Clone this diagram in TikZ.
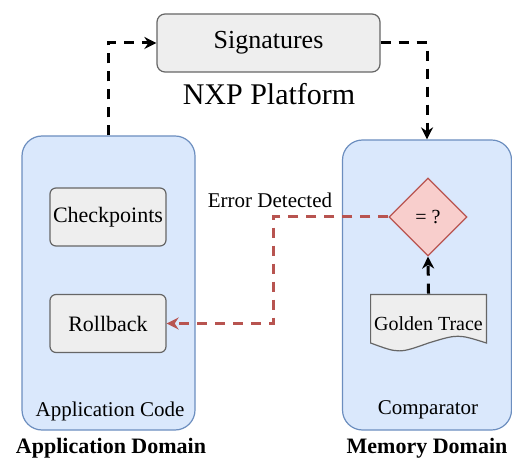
\documentclass[tikz,border=0pt]{standalone}
\usepackage{fontspec}
\setmainfont{Liberation Serif}
\usetikzlibrary{shapes.geometric,arrows.meta}

\definecolor{domblau}{HTML}{DAE8FC}
\definecolor{domrand}{HTML}{6C8EBF}
\definecolor{boxgrau}{HTML}{EEEEEE}
\definecolor{boxrand}{HTML}{666666}
\definecolor{pruefrot}{HTML}{F8CECC}
\definecolor{fehlerrot}{HTML}{B85450}

\begin{document}
\begin{tikzpicture}[x=0.5pt,y=0.5pt,
		domaene/.style={draw=domrand, fill=domblau, line width=0.6pt, rounded corners=10pt},
		baustein/.style={draw=boxrand, fill=boxgrau, line width=0.6pt, rounded corners=3pt,
			minimum width=58pt, minimum height=29pt, inner sep=0pt, font=\fontsize{11}{13}\selectfont},
		fluss/.style={line width=1.5pt, dash pattern=on 5pt off 4pt, -{Stealth[length=6pt,width=6pt]}},
		titel/.style={font=\fontsize{11}{13}\selectfont\bfseries},
		beschr/.style={font=\fontsize{10.5}{12}\selectfont}]
		\useasboundingbox (0,0) rectangle (512,-458);

		% Domaenen als abgerundete Container
		\node[domaene, minimum width=86.5pt, minimum height=147pt] (app) at (108.5,-283) {};
		\node[domaene, minimum width=84.5pt, minimum height=145pt] (mem) at (427,-285) {};

		% Plattform oben
		\node[baustein, rounded corners=4pt, minimum width=111.5pt, font=\fontsize{13}{15}\selectfont] (sig) at (268.5,-43) {Signatures};
		\node[font=\fontsize{15}{17}\selectfont] (nxp) at (269,-94) {NXP Platform};

		% Bausteine im Anwendungscode
		\node[baustein] (chk) at (108,-217) {Checkpoints};
		\node[baustein] (rb)  at (108,-323.5) {Rollback};

		% Vergleicher mit Referenzspur
		\node[diamond, draw=fehlerrot, fill=pruefrot, line width=0.6pt, minimum width=39pt, minimum height=39pt,
			inner sep=0pt, font=\fontsize{10}{12}\selectfont] (cmp) at (428,-217) {= ?};
		\node[minimum width=58.5pt, minimum height=30pt, inner sep=0pt, font=\fontsize{10}{12}\selectfont,
			path picture={
				\path[draw=boxrand, fill=boxgrau, line width=0.6pt]
					([shift={(0.6,-0.6)}]path picture bounding box.north west)
					-- ([shift={(-0.6,-0.6)}]path picture bounding box.north east)
					-- ([shift={(-0.6,11)}]path picture bounding box.south east)
					.. controls ([shift={(-29,20)}]path picture bounding box.south east) .. ([yshift=5.5pt]path picture bounding box.south)
					.. controls ([shift={(29,0.5)}]path picture bounding box.south west) .. ([shift={(0.6,11)}]path picture bounding box.south west)
					-- cycle;
			}] (gt) at (428.5,-324) {Golden Trace};

		% Beschriftungen der Container
		\node[beschr] (appcode) at (110,-411) {Application Code};
		\node[beschr] (cmptxt) at (428,-410) {Comparator};
		\node[titel] (appdom) at (111,-448) {Application Domain};
		\node[titel] (memdom) at (427,-448) {Memory Domain};

		% Signaturfluss (schwarz gestrichelt)
		\draw[fluss] (app.north) |- (sig.west);
		\draw[fluss] (sig.east) -| (mem.north);
		\draw[fluss] (gt.north) -- (cmp.south);

		% Fehlerpfad zurueck zum Rollback
		\coordinate (knick) at (273,-217);
		\draw[fluss, draw=fehlerrot] (cmp.west) -- (knick) |- (rb.east);
		\node[beschr, anchor=base] (err) at (270,-208) {Error Detected};
	\end{tikzpicture}
\end{document}
